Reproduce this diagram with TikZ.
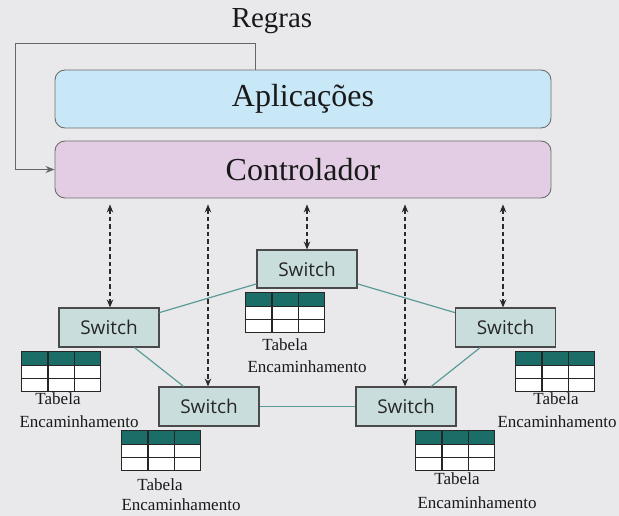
\documentclass[tikz,border=0pt]{standalone}
\usepackage{fontspec}
\setmainfont{Liberation Serif}
\newfontfamily\swfont{Open Sans}
\usetikzlibrary{calc,arrows.meta}

\definecolor{fundo}{HTML}{E9E9EB}
\definecolor{aplcor}{HTML}{C8E7F7}
\definecolor{ctlcor}{HTML}{E3CDE4}
\definecolor{bordacam}{HTML}{6E6E6E}
\definecolor{swcor}{HTML}{C9DDDD}
\definecolor{swborda}{HTML}{4A4A4A}
\definecolor{cabec}{HTML}{1B6E68}
\definecolor{enlcor}{HTML}{5B9B96}
\definecolor{setacor}{HTML}{2A2A2A}

\tikzset{
  camada/.style={draw=bordacam, line width=0.9pt, rounded corners=10pt,
    minimum width=496pt, minimum height=57pt, inner sep=0pt,
    text=black!90, font=\fontsize{32}{32}\selectfont},
  switchbox/.style={draw=swborda, fill=swcor, line width=1.1pt,
    minimum width=100pt, minimum height=39pt, inner sep=0pt,
    text=black!85, font=\swfont\fontsize{19}{19}\selectfont},
  tabela/.style={draw=black!85, fill=white, line width=1.2pt,
    minimum width=79pt, minimum height=40pt, inner sep=0pt, anchor=north west,
    path picture={
      \fill[cabec] (path picture bounding box.north west) rectangle
        ($(path picture bounding box.north east)+(0,13.5)$);
      \draw[black!85, line width=1.2pt]
        ($(path picture bounding box.north west)+(0,13.5)$) --
        ($(path picture bounding box.north east)+(0,13.5)$)
        ($(path picture bounding box.north west)+(0,26.5)$) --
        ($(path picture bounding box.north east)+(0,26.5)$)
        ($(path picture bounding box.north west)!1/3!(path picture bounding box.north east)$) --
        ($(path picture bounding box.south west)!1/3!(path picture bounding box.south east)$)
        ($(path picture bounding box.north west)!2/3!(path picture bounding box.north east)$) --
        ($(path picture bounding box.south west)!2/3!(path picture bounding box.south east)$);
    }},
  rotulo/.style={inner sep=0pt, text=black!90, font=\fontsize{17}{17}\selectfont},
  enlace/.style={draw=enlcor, line width=1.2pt},
  seta/.style={draw=setacor, line width=1.1pt, dash pattern=on 4.5pt off 3pt,
    {Stealth[length=8pt,width=6.5pt]}-{Stealth[length=8pt,width=6.5pt]}},
  retorno/.style={draw=black!60, line width=1pt, -{Stealth[length=9pt,width=7pt]}}
}

\begin{document}
\begin{tikzpicture}[x=1pt,y=-1pt]
\fill[fundo] (0,0) rectangle (619,516);
\useasboundingbox (0,0) rectangle (619,516);

% control plane layers
\node[camada, fill=aplcor, minimum height=58pt] (apl) at (303,99) {Aplicações};
\node[camada, fill=ctlcor] (ctl) at (303,169.5) {Controlador};
\node[inner sep=0pt, text=black!90, font=\fontsize{29}{29}\selectfont] (regras) at (272,21) {Regras};

% rules fed back from the applications to the controller
\coordinate (topo) at ($(apl.north west)!0.405!(apl.north east)$);
\coordinate (canto) at (15,44);
\draw[retorno] (topo) |- (canto) |- (ctl.west);

% switches
\node[switchbox, minimum height=38pt] (swT) at (307,269) {Switch};
\node[switchbox] (swL) at (109,327.5) {Switch};
\node[switchbox] (swR) at (505.5,327.5) {Switch};
\node[switchbox] (swBL) at (209,406.5) {Switch};
\node[switchbox] (swBR) at (406,406.5) {Switch};

% links between switches
\draw[enlace] (swL) -- (swT);
\draw[enlace] (swT) -- (swR);
\draw[enlace] (swL) -- (swBL);
\draw[enlace] (swBL) -- (swBR);
\draw[enlace] (swBR) -- (swR);

% controller <-> switch channels
\foreach \s/\dx in {swL/1, swBL/-1, swT/0, swBR/-1, swR/-2.5}{
  \draw[seta] ($(\s.north |- ctl.south)+(\dx,6)$) -- ($(\s.north)+(\dx,0)$);
}

% forwarding tables
\node[tabela] (tabT) at (245,292) {};
\node[tabela] (tabL) at (21,351) {};
\node[tabela] (tabR) at (515,351) {};
\node[tabela] (tabBL) at (121,430) {};
\node[tabela] (tabBR) at (415,430) {};

\node[rotulo] (tT1) at (285,345) {Tabela};
\node[rotulo] (tT2) at (307,367) {Encaminhamento};
\node[rotulo] (tL1) at (58,399) {Tabela};
\node[rotulo] (tL2) at (79,422) {Encaminhamento};
\node[rotulo] (tR1) at (556,399) {Tabela};
\node[rotulo] (tR2) at (557,422) {Encaminhamento};
\node[rotulo] (tBL1) at (160,485) {Tabela};
\node[rotulo] (tBL2) at (181,505) {Encaminhamento};
\node[rotulo] (tBR1) at (457,479) {Tabela};
\node[rotulo] (tBR2) at (477,503) {Encaminhamento};
\end{tikzpicture}
\end{document}
